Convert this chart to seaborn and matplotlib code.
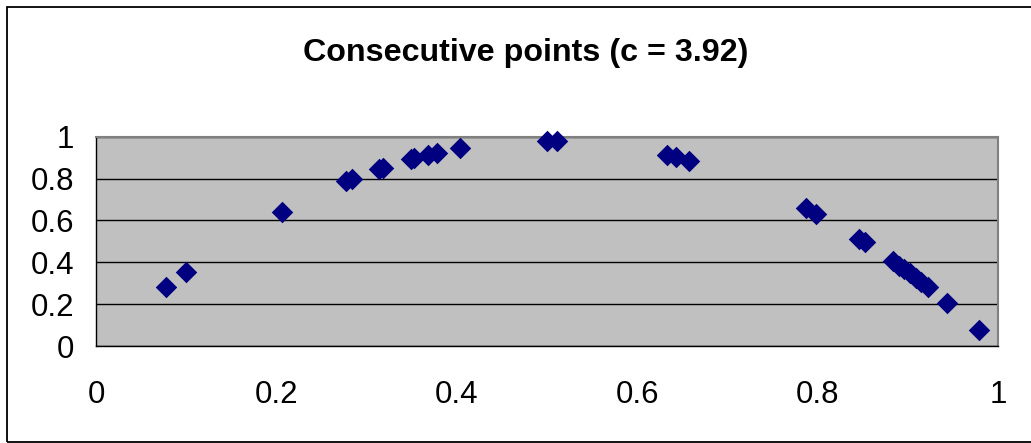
import matplotlib
matplotlib.use("Agg")
import matplotlib.pyplot as plt
from matplotlib.patches import Rectangle
import seaborn as sns
import pandas as pd

# Consecutive values of the logistic map: x_n against x_(n+1)
x_n = [0.078, 0.100, 0.206, 0.277, 0.284, 0.314, 0.318, 0.349, 0.353,
       0.368, 0.378, 0.404, 0.500, 0.511, 0.633, 0.643, 0.657, 0.787,
       0.798, 0.846, 0.852, 0.884, 0.890, 0.896, 0.902, 0.909, 0.915,
       0.922, 0.944, 0.979]
x_next = [0.280, 0.352, 0.642, 0.787, 0.798, 0.846, 0.850, 0.892, 0.896,
          0.914, 0.922, 0.945, 0.980, 0.980, 0.913, 0.902, 0.884, 0.659,
          0.633, 0.510, 0.496, 0.405, 0.384, 0.366, 0.347, 0.325, 0.305,
          0.283, 0.206, 0.078]

title_text = "Consecutive points (c = 3.92)"
tick_values = [0, 0.2, 0.4, 0.6, 0.8, 1]
tick_labels = ["0", "0.2", "0.4", "0.6", "0.8", "1"]

df = pd.DataFrame({"x_n": x_n, "x_next": x_next})

sns.set_style("white")
plt.rcParams["font.family"] = ["Liberation Sans", "DejaVu Sans"]

W, H = 1031, 443
fig = plt.figure(figsize=(W / 100, H / 100), dpi=100)

# chart frame
fig.patches.append(Rectangle((7 / W, 1 - 442 / H), (1040 - 7) / W, (442 - 7) / H,
                             transform=fig.transFigure, fill=False,
                             edgecolor="black", linewidth=1.3, zorder=0))

left, right, top, bottom = 96, 998, 136.7, 346
ax = fig.add_axes([left / W, 1 - bottom / H, (right - left) / W, (bottom - top) / H])
ax.set_facecolor("#C0C0C0")

sns.scatterplot(data=df, x="x_n", y="x_next", ax=ax, marker="D", s=120,
                color="#000080", edgecolor="#000080", linewidth=0,
                clip_on=False, zorder=3, legend=False)

ax.set_xlim(0, 1)
ax.set_ylim(0, 1)
ax.set_xticks(tick_values)
ax.set_xticklabels(tick_labels)
ax.set_yticks(tick_values)
ax.set_yticklabels(tick_labels)
ax.set_xlabel("")
ax.set_ylabel("")

ax.yaxis.grid(True, color="black", linewidth=1.0)
ax.xaxis.grid(False)
ax.set_axisbelow(True)

for side in ("top", "right"):
    ax.spines[side].set_color("#808080")
    ax.spines[side].set_linewidth(1.5)
for side in ("left", "bottom"):
    ax.spines[side].set_color("black")
    ax.spines[side].set_linewidth(1.0)

ax.tick_params(axis="both", which="major", direction="out", length=6.5,
               width=1.0, color="black", labelsize=22.5, labelcolor="black")
ax.tick_params(axis="x", pad=18)
ax.tick_params(axis="y", pad=9)

fig.text(526 / W, 1 - 53 / H, title_text, ha="center", va="center",
         fontsize=23.2, fontweight="bold", color="black")

fig.savefig("out.png", dpi=100)
